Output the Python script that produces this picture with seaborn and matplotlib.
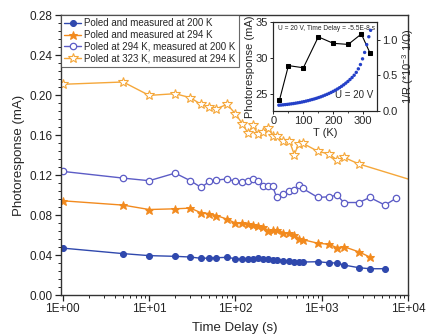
import matplotlib
matplotlib.use("Agg")
import matplotlib.pyplot as plt
import matplotlib.ticker as mticker
import seaborn as sns
import numpy as np

# ---- main panel: photoresponse vs time delay ----
t_200 = [1, 5, 10, 20, 30, 40, 50, 60, 80, 100, 120, 140, 160, 180, 210, 240, 270, 300,
         360, 420, 480, 540, 600, 900, 1200, 1500, 1800, 2700, 3600, 5400]
pr_200 = [0.0470, 0.0415, 0.0395, 0.0388, 0.0381, 0.0368, 0.0371, 0.0374, 0.0378, 0.0364,
          0.0358, 0.0361, 0.0364, 0.0368, 0.0364, 0.0358, 0.0354, 0.0354, 0.0344, 0.0341,
          0.0334, 0.0331, 0.0331, 0.0334, 0.0324, 0.0321, 0.0301, 0.0274, 0.0264, 0.0264]

t_294 = [1, 5, 10, 20, 30, 40, 50, 60, 80, 100, 120, 140, 160, 180, 210, 240, 270, 300,
         360, 420, 480, 540, 600, 900, 1200, 1500, 1800, 2700, 3600]
pr_294 = [0.0943, 0.0900, 0.0856, 0.0863, 0.0870, 0.0823, 0.0816, 0.0796, 0.0760, 0.0720,
          0.0723, 0.0713, 0.0700, 0.0689, 0.0682, 0.0642, 0.0649, 0.0652, 0.0625, 0.0619,
          0.0605, 0.0565, 0.0555, 0.0519, 0.0509, 0.0475, 0.0485, 0.0432, 0.0381]

t_294_200 = [1, 5, 10, 20, 30, 40, 50, 60, 80, 100, 120, 140, 160, 180, 210, 240, 270, 300,
             360, 420, 480, 540, 600, 900, 1200, 1500, 1800, 2700, 3600, 5400, 7200]
pr_294_200 = [0.1237, 0.1170, 0.1144, 0.1220, 0.1144, 0.1077, 0.1137, 0.1151, 0.1161, 0.1137,
              0.1127, 0.1144, 0.1164, 0.1144, 0.1094, 0.1087, 0.1087, 0.0977, 0.1010, 0.1037,
              0.1050, 0.1104, 0.1067, 0.0977, 0.0983, 0.1000, 0.0926, 0.0926, 0.0977, 0.0900,
              0.0967]

t_323_294 = [1, 5, 10, 20, 30, 40, 50, 60, 80, 100, 120, 140, 160, 180, 210, 240, 270, 300,
             360, 420, 480, 540, 600, 900, 1200, 1500, 1800, 2700, 12000]
pr_323_294 = [0.2108, 0.2131, 0.1997, 0.2014, 0.1974, 0.1907, 0.1880, 0.1864, 0.1907, 0.1813,
              0.1713, 0.1620, 0.1696, 0.1613, 0.1630, 0.1673, 0.1596, 0.1596, 0.1539, 0.1546,
              0.1405, 0.1512, 0.1519, 0.1438, 0.1412, 0.1352, 0.1378, 0.1311, 0.1140]

labels = ["Poled and measured at 200 K",
          "Poled and measured at 294 K",
          "Poled at 294 K, measured at 200 K",
          "Poled at 323 K, measured at 294 K"]

# ---- inset: temperature dependence ----
T_pr = [20, 50, 100, 150, 200, 250, 294, 323]
pr_T = [24.1, 28.9, 28.6, 32.9, 32.0, 31.85, 33.3, 30.65]

T_inv_r = [18, 25, 32, 39, 46, 53, 60, 67, 74, 81, 88, 95, 102, 109, 116, 123, 130, 137,
           144, 151, 158, 165, 172, 179, 186, 193, 200, 207, 214, 221, 228, 235, 242, 249,
           256, 263, 270, 277, 284, 291, 298, 305, 312, 319, 325]
inv_r = [0.080, 0.082, 0.085, 0.088, 0.091, 0.095, 0.099, 0.103, 0.108, 0.113, 0.118, 0.124,
         0.130, 0.137, 0.144, 0.152, 0.160, 0.168, 0.177, 0.187, 0.197, 0.208, 0.220, 0.232,
         0.245, 0.259, 0.274, 0.290, 0.307, 0.325, 0.345, 0.366, 0.389, 0.413, 0.440, 0.468,
         0.500, 0.540, 0.590, 0.650, 0.730, 0.820, 0.930, 1.040, 1.130]

sns.set_style("ticks")
plt.rcParams["font.family"] = ["Liberation Sans", "DejaVu Sans"]
plt.rcParams["mathtext.fontset"] = "custom"
plt.rcParams["mathtext.rm"] = "Liberation Sans"

fig = plt.figure(figsize=(4.26, 3.35), dpi=100)
ax = fig.add_axes([0.143, 0.119, 0.815, 0.836])

dark_blue = "#2f48ad"
light_blue = "#5c5cc6"
orange = "#f28a1e"
light_orange = "#f5a73a"

sns.lineplot(x=t_200, y=pr_200, ax=ax, color=dark_blue, lw=1.0, marker="o", ms=4.3,
             mfc=dark_blue, mec=dark_blue, label=labels[0], sort=False)
sns.lineplot(x=t_294, y=pr_294, ax=ax, color=orange, lw=1.0, marker="*", ms=6.3,
             mfc=orange, mec=orange, label=labels[1], sort=False)
sns.lineplot(x=t_294_200, y=pr_294_200, ax=ax, color=light_blue, lw=1.0, marker="o", ms=4.6,
             mfc="white", mec=light_blue, mew=0.9, label=labels[2], sort=False)
sns.lineplot(x=t_323_294, y=pr_323_294, ax=ax, color=light_orange, lw=1.0, marker="*", ms=7,
             mfc="white", mec=light_orange, mew=0.8, label=labels[3], sort=False)

ax.set_xscale("log")
ax.set_xlim(0.95, 1e4)
ax.set_ylim(0, 0.28)
ax.set_yticks(np.arange(0, 0.281, 0.04))
ax.yaxis.set_major_formatter(mticker.FormatStrFormatter("%.2f"))
ax.yaxis.set_minor_locator(mticker.AutoMinorLocator(5))
ax.xaxis.set_major_locator(mticker.LogLocator(base=10, numticks=10))
ax.xaxis.set_minor_locator(mticker.LogLocator(base=10, subs=np.arange(2, 10), numticks=50))
ax.xaxis.set_minor_formatter(mticker.NullFormatter())
ax.xaxis.set_major_formatter(mticker.FuncFormatter(lambda v, p: f"{v:.0E}"))
ax.tick_params(axis="both", which="major", direction="out", length=4, width=0.9,
               labelsize=8.5, colors="#222222", labelcolor="#222222", pad=2)
ax.tick_params(axis="both", which="minor", direction="out", length=2.2, width=0.7)
for s in ax.spines.values():
    s.set_linewidth(1.0)
    s.set_color("#333333")
ax.set_xlabel("Time Delay (s)", fontsize=9.5, labelpad=5)
ax.set_ylabel("Photoresponse (mA)", fontsize=9.5, labelpad=3)

leg = ax.legend(loc="upper left", borderaxespad=0.0, fontsize=7.0, frameon=True,
                fancybox=False, handlelength=1.8, handletextpad=0.3, borderpad=0.3,
                labelspacing=0.2)
leg.get_frame().set_edgecolor("#444444")
leg.get_frame().set_linewidth(0.8)

# inset
ax_in = fig.add_axes([0.642, 0.669, 0.242, 0.266])
sns.lineplot(x=T_pr, y=pr_T, ax=ax_in, color="black", lw=0.8, marker="s", ms=2.2,
             mec="black", sort=False, legend=False)
ax_in.set_xlim(0, 345)
ax_in.set_ylim(22.6, 35)
ax_in.set_xticks([0, 100, 200, 300])
ax_in.set_yticks([25, 30, 35])
ax_in.tick_params(axis="both", direction="out", length=2.5, width=0.7, labelsize=8,
                  pad=1.5)
ax_in.xaxis.set_minor_locator(mticker.AutoMinorLocator(2))
ax_in.tick_params(axis="x", which="minor", length=1.5, width=0.6)
ax_in.set_xlabel("T (K)", fontsize=8, labelpad=1)
ax_in.set_ylabel("Photoresponse (mA)", fontsize=8, labelpad=0.5)
for s in ax_in.spines.values():
    s.set_linewidth(0.8)

ax_r = ax_in.twinx()
sns.scatterplot(x=T_inv_r, y=inv_r, ax=ax_r, color="#2440c8", s=6, edgecolor="none",
                legend=False)
ax_r.set_ylim(0, 1.25)
ax_r.set_yticks([0.0, 0.5, 1.0])
ax_r.yaxis.set_major_formatter(mticker.FormatStrFormatter("%.1f"))
ax_r.tick_params(axis="y", direction="out", length=2.5, width=0.7, labelsize=8, pad=1.5)
ax_r.set_ylabel(r"1/R (*10$^{-3}$ 1/Ω)", fontsize=8, labelpad=2)
ax_in.text(0.04, 0.96, "U = 20 V, Time Delay = -5.5E-8 s", transform=ax_in.transAxes,
           fontsize=4.8, va="top", ha="left")
ax_in.text(0.60, 0.12, "U = 20 V", transform=ax_in.transAxes, fontsize=7,
           va="bottom", ha="left")

fig.savefig("out.png", dpi=100)
